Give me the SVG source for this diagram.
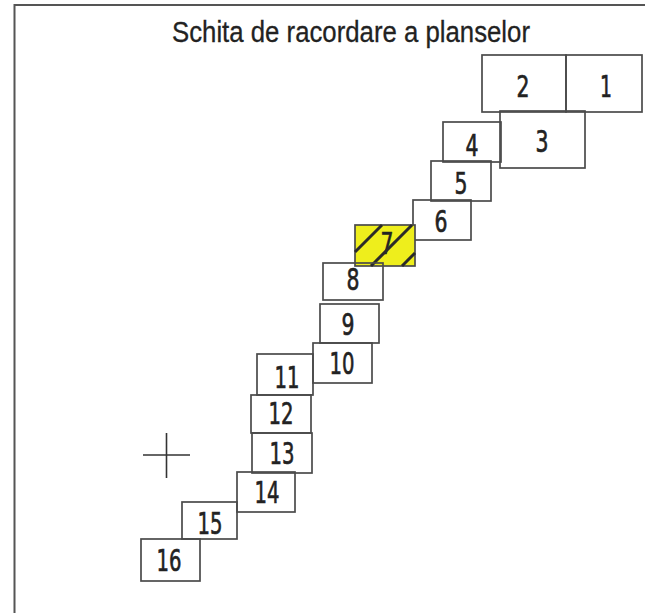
<svg xmlns="http://www.w3.org/2000/svg" width="645" height="613" viewBox="0 0 645 613">
<style>
.b{fill:none;stroke:#4a4a4a;stroke-width:1.7}
.t{font-family:"DejaVu Sans","Liberation Sans",sans-serif;font-size:31px;fill:#222;stroke:#222;stroke-width:0.7;text-anchor:middle}
.h{stroke:#2a2a2a;stroke-width:3}
</style>
<rect width="645" height="613" fill="#fff"/>
<path d="M645,5 H14.5 V613" fill="none" stroke="#555" stroke-width="2"/>
<text x="351" y="42" font-family="'Liberation Sans',sans-serif" font-size="30" fill="#222" stroke="#222" stroke-width="0.3" text-anchor="middle" textLength="358" lengthAdjust="spacingAndGlyphs">Schita de racordare a planselor</text>
<g id="n2"><rect class="b" x="482" y="55" width="84" height="57"/><text class="t" x="523" y="97" textLength="13" lengthAdjust="spacingAndGlyphs">2</text></g>
<g id="n1"><rect class="b" x="566" y="55" width="76" height="57"/><text class="t" x="606" y="97" textLength="12" lengthAdjust="spacingAndGlyphs">1</text></g>
<g id="n3"><rect class="b" x="500" y="111" width="85" height="57"/><text class="t" x="542" y="152" textLength="13" lengthAdjust="spacingAndGlyphs">3</text></g>
<g id="n4"><rect class="b" x="443" y="122" width="58" height="40"/><text class="t" x="472" y="156" textLength="13" lengthAdjust="spacingAndGlyphs">4</text></g>
<g id="n5"><rect class="b" x="431" y="161" width="60" height="40"/><text class="t" x="461" y="194" textLength="13" lengthAdjust="spacingAndGlyphs">5</text></g>
<g id="n6"><rect class="b" x="413" y="200" width="58" height="40"/><text class="t" x="441" y="232" textLength="13" lengthAdjust="spacingAndGlyphs">6</text></g>
<g id="n7">
<rect x="355" y="225" width="60" height="41" fill="#eeee1c" stroke="#4a4a4a" stroke-width="1.7"/>
<text class="t" x="387" y="254" textLength="13" lengthAdjust="spacingAndGlyphs">7</text>
<line class="h" x1="355" y1="252" x2="382" y2="225"/>
<line class="h" x1="371" y1="266" x2="412" y2="225"/>
<line class="h" x1="402" y1="266" x2="415" y2="253"/>
</g>
<g id="n8"><rect class="b" x="323" y="263" width="60" height="37"/><text class="t" x="353" y="290" textLength="13" lengthAdjust="spacingAndGlyphs">8</text></g>
<g id="n9"><rect class="b" x="320" y="304" width="59" height="39"/><text class="t" x="348" y="335" textLength="13" lengthAdjust="spacingAndGlyphs">9</text></g>
<g id="n10"><rect class="b" x="313" y="343" width="59" height="40"/><text class="t" x="342" y="374" textLength="25" lengthAdjust="spacingAndGlyphs">10</text></g>
<g id="n11"><rect class="b" x="257" y="354" width="56" height="41"/><text class="t" x="287" y="388" textLength="25" lengthAdjust="spacingAndGlyphs">11</text></g>
<g id="n12"><rect class="b" x="251" y="395" width="60" height="38"/><text class="t" x="281" y="424" textLength="25" lengthAdjust="spacingAndGlyphs">12</text></g>
<g id="n13"><rect class="b" x="252" y="433" width="60" height="40"/><text class="t" x="282" y="464" textLength="25" lengthAdjust="spacingAndGlyphs">13</text></g>
<g id="n14"><rect class="b" x="237" y="472" width="58" height="40"/><text class="t" x="267" y="503" textLength="25" lengthAdjust="spacingAndGlyphs">14</text></g>
<g id="n15"><rect class="b" x="182" y="502" width="55" height="37"/><text class="t" x="210" y="534" textLength="25" lengthAdjust="spacingAndGlyphs">15</text></g>
<g id="n16"><rect class="b" x="141" y="539" width="59" height="42"/><text class="t" x="169" y="571" textLength="25" lengthAdjust="spacingAndGlyphs">16</text></g>
<g id="connectors"></g>
<g id="crosshair" stroke="#333" stroke-width="1.6"><line x1="143" y1="455" x2="190" y2="455"/><line x1="166.5" y1="433" x2="166.5" y2="478"/></g>
</svg>
